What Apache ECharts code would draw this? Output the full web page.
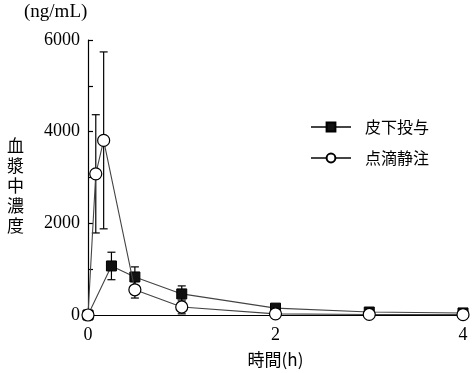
<!DOCTYPE html>
<html><head><meta charset="utf-8">
<script src="https://cdn.jsdelivr.net/npm/echarts@6/dist/echarts.min.js"></script>
<style>html,body{margin:0;padding:0;background:#fff}#c{width:473px;height:373px}</style>
</head><body><div id="c"></div>
<script>
const seriesNames = ['皮下投与', '点滴静注'];
const scTime = [0, 0.25, 0.5, 1, 2, 3, 4];
const scMean = [0, 1070, 830, 460, 150, 65, 45];
const scSD   = [0, 300, 220, 175, 0, 0, 0];
const ivTime = [0, 0.083, 0.167, 0.5, 1, 2, 3, 4];
const ivMean = [0, 3080, 3810, 550, 175, 25, 12, 8];
const ivSD   = [0, 1290, 1930, 180, 150, 0, 0, 0];
const yTicks = [0, 2000, 4000, 6000];
const xTicks = [0, 2, 4];

const serif = "'Liberation Serif','DejaVu Serif',serif";
const cjk = "'Noto Sans CJK JP','Liberation Serif',serif";

function pairs(t, v) { return t.map((x, i) => [x, v[i]]); }
function errData(t, m, s) { return t.map((x, i) => [x, m[i] - s[i], m[i] + s[i]]).filter((d, i) => s[i] > 0); }
function errRender(params, api) {
  const x = api.value(0);
  const lo = api.coord([x, api.value(1)]);
  const hi = api.coord([x, api.value(2)]);
  const w = 4;
  const st = { stroke: '#000', lineWidth: 1.2 };
  return { type: 'group', children: [
    { type: 'line', shape: { x1: lo[0], y1: lo[1], x2: hi[0], y2: hi[1] }, style: st },
    { type: 'line', shape: { x1: hi[0] - w, y1: hi[1], x2: hi[0] + w, y2: hi[1] }, style: st },
    { type: 'line', shape: { x1: lo[0] - w, y1: lo[1], x2: lo[0] + w, y2: lo[1] }, style: st }
  ]};
}

const chart = echarts.init(document.getElementById('c'), null, { renderer: 'canvas' });
chart.setOption({
  animation: false,
  backgroundColor: '#fff',
  grid: { left: 88, right: 10, top: 40, bottom: 58 },
  legend: {
    left: 305, top: 114, orient: 'vertical', itemGap: 15,
    itemWidth: 40, itemHeight: 11,
    textStyle: { fontFamily: cjk, fontSize: 16, color: '#000', padding: [0, 0, 0, 9] },
    data: [seriesNames[0], seriesNames[1]]
  },
  xAxis: {
    type: 'value', min: 0, max: 4, interval: 2,
    name: '時間(h)', nameLocation: 'middle', nameGap: 36,
    nameTextStyle: { fontFamily: cjk, fontSize: 17, color: '#000' },
    axisLine: { show: true, onZero: false, lineStyle: { color: '#000', width: 1.2 } },
    axisTick: { show: false },
    splitLine: { show: false },
    axisLabel: { fontFamily: serif, fontSize: 18, color: '#000', margin: 11,
      formatter: v => xTicks.includes(v) ? String(v) : '' }
  },
  yAxis: {
    type: 'value', min: 0, max: 6000, interval: 1000,
    axisLine: { show: true, lineStyle: { color: '#000', width: 1.2 } },
    axisTick: { show: true, inside: true, length: 5, lineStyle: { color: '#000', width: 1.2 } },
    splitLine: { show: false },
    axisLabel: { fontFamily: serif, fontSize: 18, color: '#000', margin: 8,
      formatter: v => yTicks.includes(v) ? String(v) : '' }
  },
  graphic: [
    { type: 'text', left: 24, top: 3, style: { text: '(ng/mL)', font: "19px 'Liberation Serif','DejaVu Serif',serif", fill: '#000' } },
    { type: 'text', left: 7, top: 136, style: { text: '血\n漿\n中\n濃\n度', font: "17px 'Noto Sans CJK JP'", fill: '#000', lineHeight: 20 } }
  ],
  series: [
    { name: 'errIV', type: 'custom', renderItem: errRender, data: errData(ivTime, ivMean, ivSD), z: 1, encode: { x: 0, y: [1, 2] } },
    { name: 'errSC', type: 'custom', renderItem: errRender, data: errData(scTime, scMean, scSD), z: 1, encode: { x: 0, y: [1, 2] } },
    { name: seriesNames[0], type: 'line', data: pairs(scTime, scMean), z: 3,
      symbol: 'rect', symbolSize: 10,
      lineStyle: { color: '#444', width: 1.1 },
      itemStyle: { color: '#111', borderColor: '#000', borderWidth: 1 } },
    { name: seriesNames[1], type: 'line', data: pairs(ivTime, ivMean), z: 4,
      symbol: 'circle', symbolSize: 12,
      lineStyle: { color: '#444', width: 1.1 },
      itemStyle: { color: '#fff', borderColor: '#000', borderWidth: 1.2 } }
  ]
});
</script></body></html>
